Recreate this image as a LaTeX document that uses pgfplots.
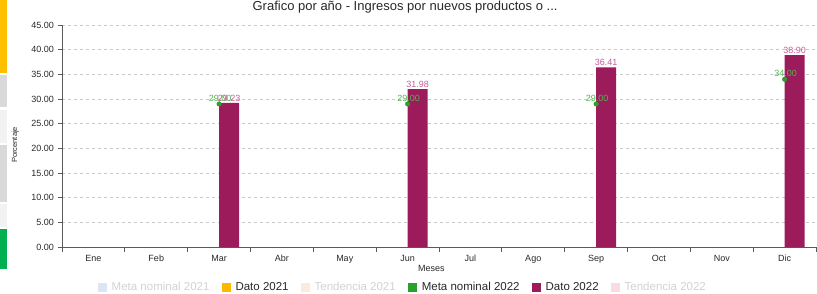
\documentclass[border=0pt]{standalone}
\usepackage{pgfplots}
\pgfplotsset{compat=1.18}
\usepackage{fontspec}
\setmainfont{Liberation Sans}
\definecolor{bar22}{RGB}{155,27,91}
\definecolor{barlbl}{RGB}{200,90,150}
\definecolor{meta22}{RGB}{44,160,44}
\definecolor{metalbl}{RGB}{80,180,80}
\definecolor{dato21}{RGB}{255,184,0}
\definecolor{fadeblue}{RGB}{218,230,242}
\definecolor{fadepeach}{RGB}{253,234,218}
\definecolor{fadepink}{RGB}{249,220,224}
\definecolor{fadetext}{RGB}{210,210,210}
\definecolor{txt}{RGB}{40,40,40}
\definecolor{axisgray}{RGB}{90,90,90}
\definecolor{gridgray}{RGB}{200,200,200}
\definecolor{stripY}{RGB}{255,192,0}
\definecolor{stripG}{RGB}{217,217,217}
\definecolor{stripL}{RGB}{242,242,242}
\definecolor{stripGr}{RGB}{0,176,80}
\begin{document}
\begin{tikzpicture}
\path[use as bounding box] (0pt,0pt) rectangle (817pt,293pt);
\fill[stripY] (0pt,293pt) rectangle (7pt,220pt);
\fill[stripG] (0pt,218pt) rectangle (7pt,186pt);
\fill[stripL] (0pt,183pt) rectangle (7pt,150pt);
\fill[stripG] (0pt,148pt) rectangle (7pt,91pt);
\fill[stripL] (0pt,89pt) rectangle (7pt,66pt);
\fill[stripGr] (0pt,64pt) rectangle (7pt,24pt);
\begin{axis}[
  at={(62pt,46pt)}, anchor=south west,
  scale only axis, width=754pt, height=222pt,
  xmin=0.5, xmax=12.5, ymin=0, ymax=45,
  axis lines=left,
  axis line style={-, draw=axisgray, line width=0.9pt},
  tick align=outside,
  major tick length=4.5pt,
  tick style={draw=axisgray, line width=0.8pt},
  xtick={0.5,1.5,...,12.5},
  x tick label as interval,
  xticklabels={Ene,Feb,Mar,Abr,May,Jun,Jul,Ago,Sep,Oct,Nov,Dic},
  ytick={0,5,...,45},
  yticklabel={\pgfmathprintnumber[fixed,fixed zerofill,precision=2]{\tick}},
  /pgf/number format/assume math mode=true,
  ticklabel style={font=\fontsize{9}{10}\selectfont, text=txt},
  ymajorgrids,
  grid style={dash pattern=on 3pt off 3pt, draw=gridgray, line width=0.6pt},
  title={Grafico por año - Ingresos por nuevos productos o ...},
  title style={at={(0.455,1.054)}, anchor=center, font=\fontsize{13}{15}\selectfont, text=txt},
  xlabel={Meses},
  xlabel style={at={(0.49,-0.095)}, anchor=center, font=\fontsize{9}{10}\selectfont, text=txt},
  ylabel={Porcentaje},
  ylabel style={at={(-0.062,0.46)}, anchor=center, rotate=0, font=\fontsize{7.5}{9}\selectfont, text=txt},
  legend columns=6,
  legend image code/.code={\fill[#1, draw=none] (0pt,-4.5pt) rectangle (9pt,4.5pt);},
  legend style={at={(0.452,-0.181)}, anchor=center, draw=none, fill=none,
    font=\fontsize{11.5}{13}\selectfont, text=txt,
    /tikz/every odd column/.append style={column sep=3pt},
    /tikz/every even column/.append style={column sep=10pt}},
]
\addlegendimage{fill=fadeblue}
\addlegendentry{\textcolor{fadetext}{Meta nominal 2021}}
\addlegendimage{fill=dato21}
\addlegendentry{Dato 2021}
\addlegendimage{fill=fadepeach}
\addlegendentry{\textcolor{fadetext}{Tendencia 2021}}
\addlegendimage{fill=meta22}
\addlegendentry{Meta nominal 2022}
\addlegendimage{fill=bar22}
\addlegendentry{Dato 2022}
\addlegendimage{fill=fadepink}
\addlegendentry{\textcolor{fadetext}{Tendencia 2022}}

\addplot[ybar, bar width=20pt, bar shift=10pt, fill=bar22, draw=none, forget plot,
  nodes near coords={\pgfmathprintnumber[fixed,fixed zerofill,precision=2]{\pgfplotspointmeta}},
  every node near coord/.append style={font=\fontsize{9}{10}\selectfont, text=barlbl, inner sep=1.5pt, xshift=10pt}]
  coordinates {(3,29.23) (6,31.98) (9,36.41) (12,38.90)};

\addplot[only marks, mark=*, mark size=2.3pt, color=meta22, forget plot,
  nodes near coords={\pgfmathprintnumber[fixed,fixed zerofill,precision=2]{\pgfplotspointmeta}},
  every node near coord/.append style={font=\fontsize{9}{10}\selectfont, text=metalbl, inner sep=1.5pt, xshift=1pt, yshift=1pt}]
  coordinates {(3,29) (6,29) (9,29) (12,34)};
\end{axis}
\end{tikzpicture}
\end{document}
